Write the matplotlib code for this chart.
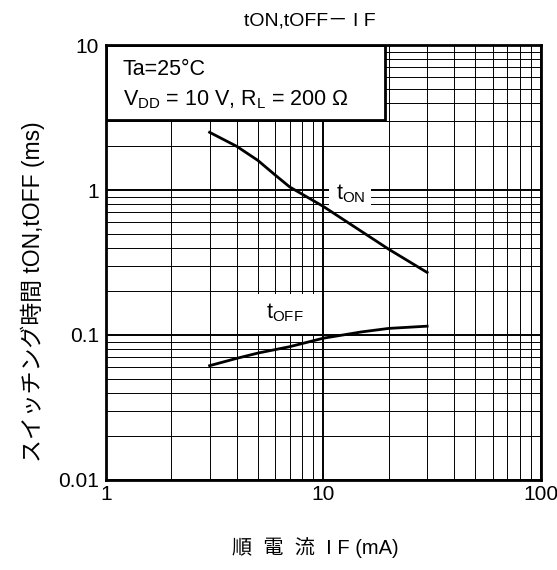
import matplotlib
matplotlib.use('Agg')
import matplotlib.pyplot as plt
from matplotlib.patches import Rectangle

plt.rcParams['font.family'] = ['Liberation Sans', 'Noto Sans CJK JP', 'DejaVu Sans']
plt.rcParams['mathtext.fontset'] = 'custom'
plt.rcParams['mathtext.rm'] = 'Liberation Sans'

# tON / tOFF vs IF
if_on = [3, 4, 5, 6, 7, 10, 20, 30]
t_on = [2.5, 2.0, 1.6, 1.27, 1.05, 0.77, 0.39, 0.27]
if_off = [3, 4, 5, 7, 10, 15, 20, 30]
t_off = [0.0614, 0.069, 0.075, 0.083, 0.095, 0.105, 0.111, 0.115]

fig = plt.figure(figsize=(5.57, 5.70), dpi=100)
ax = fig.add_axes([0.190, 0.158, 0.781, 0.763])

ax.set_xscale('log')
ax.set_yscale('log')
ax.set_xlim(1, 100)
ax.set_ylim(0.01, 10)

ax.grid(True, which='major', color='black', lw=1.4)
ax.grid(True, which='minor', color='black', lw=0.7)
ax.tick_params(which='both', length=0, labelsize=15)
ax.tick_params(axis='x', pad=4)
ax.tick_params(axis='y', pad=5)
ax.set_xticks([1, 10, 100])
ax.set_xticklabels(['1', '10', '100'])
ax.set_yticks([0.01, 0.1, 1, 10])
ax.set_yticklabels(['0.01', '0.1', '1', '10'])
ax.set_axisbelow(True)
for s in ax.spines.values():
    s.set_linewidth(2)
    s.set_zorder(6)

ax.plot(if_on, t_on, color='black', lw=2, zorder=4)
ax.plot(if_off, t_off, color='black', lw=2, zorder=4)

# condition box
ax.add_patch(Rectangle((0, 0.828), 0.641, 0.172, transform=ax.transAxes,
                       facecolor='white', edgecolor='black', lw=2, zorder=5))
ax.text(0.039, 0.931, 'Ta=25°C', transform=ax.transAxes, fontsize=15.5,
        va='baseline', ha='left', zorder=7)
ax.text(0.039, 0.862, r'V$_{\mathregular{DD}}$ = 10 V, R$_{\mathregular{L}}$ = 200 Ω',
        transform=ax.transAxes, fontsize=15.5, va='baseline', ha='left', zorder=7)

# curve labels on white patches
ax.add_patch(Rectangle((10.6, 0.76), 5.9, 0.36, facecolor='white',
                       edgecolor='none', zorder=3))
ax.text(13.3, 0.95, r'$\mathregular{t_{ON}}$', fontsize=15.5, ha='center',
        va='center', zorder=5)
ax.add_patch(Rectangle((4.1, 0.1015), 5.75, 0.09, facecolor='white',
                       edgecolor='none', zorder=3))
ax.text(6.65, 0.142, r'$\mathregular{t_{OFF}}$', fontsize=15.5, ha='center',
        va='center', zorder=5)

fig.text(0.557, 0.956, 'tON,tOFF－ I F', fontsize=14, ha='center', va='baseline')
fig.text(0.566, 0.0386, '順  電  流  I F (mA)', fontsize=14.5, ha='center',
         va='center')
fig.text(0.059, 0.489, 'スイッチング時間 tON,tOFF (ms)', fontsize=16.5,
         ha='center', va='center', rotation=90)

fig.savefig('out.png', dpi=100)
